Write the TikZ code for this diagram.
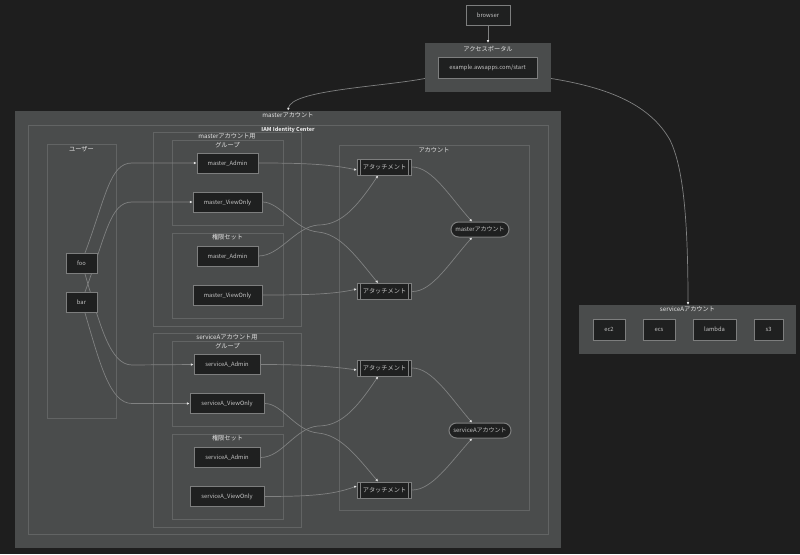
\documentclass[tikz,border=0pt]{standalone}
\usepackage{fontspec}
\setmainfont{Noto Sans CJK JP}
\usepackage{tikz}
\usetikzlibrary{shapes,arrows.meta,positioning,fit,backgrounds}
\definecolor{page}{RGB}{30, 30, 30}
\definecolor{clusterfill}{RGB}{74, 76, 76}
\definecolor{clusterline}{RGB}{98, 100, 100}
\definecolor{nodefill}{RGB}{31, 32, 32}
\definecolor{nodeline}{RGB}{125, 126, 126}
\definecolor{edgeline}{RGB}{128, 129, 129}
\definecolor{nodetext}{RGB}{195, 195, 195}
\definecolor{titletext}{RGB}{228, 228, 228}
\pgfdeclarelayer{edges}
\pgfsetlayers{background,edges,main}
\tikzstyle{cluster} = [rectangle, draw=clusterline, line width=0.7pt, fill=clusterfill, inner sep=0pt]
\tikzstyle{outer} = [rectangle, draw=none, fill=clusterfill, inner sep=0pt]
\tikzstyle{ctitle} = [text=titletext, font=\fontsize{6.2}{7}\selectfont, inner sep=0pt]
\tikzstyle{box} = [rectangle, draw=nodeline, line width=1pt, fill=nodefill, text=nodetext, text centered, font=\fontsize{5.8}{7}\selectfont, minimum height=20pt, inner sep=0pt, text height=4.6pt, text depth=0pt]
\tikzstyle{account} = [rectangle, rounded corners=7.5pt, draw=nodeline, line width=1pt, fill=nodefill, text=nodetext, text centered, font=\fontsize{6}{7}\selectfont, minimum height=15pt, inner sep=0pt, text height=4.6pt, text depth=0pt]
\tikzstyle{attach} = [box, minimum width=54.5pt, minimum height=16pt, font=\fontsize{6.2}{7}\selectfont, path picture={
  \draw[nodeline, line width=0.8pt] ([xshift=3pt]path picture bounding box.north west) -- ([xshift=3pt]path picture bounding box.south west);
  \draw[nodeline, line width=0.8pt] ([xshift=-3pt]path picture bounding box.north east) -- ([xshift=-3pt]path picture bounding box.south east);}]
\tikzstyle{tedge} = [draw=edgeline, line width=0.7pt, -{Latex[length=2.6pt,width=2.6pt,color=titletext]}]
\begin{document}
\begin{tikzpicture}[x=1pt, y=-1pt]
\useasboundingbox (0,0) rectangle (800,554);

% clusters =============================

\begin{scope}[on background layer]
\fill[page] (0,0) rectangle (800,554);
\node[outer, fit={(425,43) (551,92)}] (portal) {};
\node[outer, fit={(15,111) (561,548)}] (master) {};
\node[outer, fit={(579,305) (796,354)}] (serviceA) {};
\node[cluster, fit={(28,125) (548,534)}] (iam) {};
\node[cluster, fit={(47,144) (116,418)}] (users) {};
\node[cluster, fit={(339,145) (529,510)}] (accounts) {};
\node[cluster, fit={(153,132) (301,326)}] (mOuter) {};
\node[cluster, fit={(172,140) (283,225)}] (mGroup) {};
\node[cluster, fit={(172,233) (283,318)}] (mPerm) {};
\node[cluster, fit={(153,333) (301,527)}] (sOuter) {};
\node[cluster, fit={(172,341) (283,426)}] (sGroup) {};
\node[cluster, fit={(172,434) (283,519)}] (sPerm) {};
\end{scope}

% titles
\node[ctitle, below=3.5pt of portal.north] (portalT) {アクセスポータル};
\node[ctitle, below=2pt of master.north] (masterT) {masterアカウント};
\node[ctitle, below=2pt of serviceA.north] (serviceAT) {serviceAアカウント};
\node[ctitle, font=\fontsize{5.4}{7}\selectfont\bfseries, below=2pt of iam.north] (iamT) {IAM Identity Center};
\node[ctitle, below=2.5pt of users.north] (usersT) {ユーザー};
\node[ctitle, below=2.5pt of accounts.north] (accountsT) {アカウント};
\node[ctitle, below=2pt of mOuter.north] (mOuterT) {masterアカウント用};
\node[ctitle, below=2pt of mGroup.north] (mGroupT) {グループ};
\node[ctitle, below=1pt of mPerm.north] (mPermT) {権限セット};
\node[ctitle, below=2pt of sOuter.north] (sOuterT) {serviceAアカウント用};
\node[ctitle, below=2pt of sGroup.north] (sGroupT) {グループ};
\node[ctitle, below=1pt of sPerm.north] (sPermT) {権限セット};

% top
\node[box, minimum width=44pt] (browser) at (488,15) {browser};
\node[box, minimum width=99pt, minimum height=21pt] (start) at (487.5,67.5) {example.awsapps.com/start};

% users
\node[box, minimum width=31pt] (foo) at (81.5,263.5) {foo};
\node[box, minimum width=31pt, below=18pt of foo] (bar) {bar};

% master groups and permission sets
\node[box, minimum width=61pt] (mAdmin) at (227.5,163) {master\_Admin};
\node[box, minimum width=69pt, below=18pt of mAdmin] (mView) {master\_ViewOnly};
\node[box, minimum width=61pt] (mAdminP) at (227.5,256) {master\_Admin};
\node[box, minimum width=69pt, below=18pt of mAdminP] (mViewP) {master\_ViewOnly};

% serviceA groups and permission sets
\node[box, minimum width=66pt] (sAdmin) at (227,364.5) {serviceA\_Admin};
\node[box, minimum width=74pt, below=18pt of sAdmin] (sView) {serviceA\_ViewOnly};
\node[box, minimum width=66pt] (sAdminP) at (227,457.5) {serviceA\_Admin};
\node[box, minimum width=74pt, below=18pt of sAdminP] (sViewP) {serviceA\_ViewOnly};

% attachments
\node[attach] (att1) at (384.5,167) {アタッチメント};
\node[attach] (att2) at (384.5,291.5) {アタッチメント};
\node[attach] (att3) at (384.5,368) {アタッチメント};
\node[attach] (att4) at (384.5,490) {アタッチメント};
\node[account, minimum width=58pt] (mAcc) at (480,229.5) {masterアカウント};
\node[account, minimum width=62pt] (sAcc) at (480,430.5) {serviceAアカウント};

% serviceA resources
\node[box, minimum width=32pt, minimum height=21pt] (ec2) at (609,329.5) {ec2};
\node[box, minimum width=32pt, minimum height=21pt, right=17pt of ec2] (ecs) {ecs};
\node[box, minimum width=43pt, minimum height=21pt, right=17pt of ecs] (lambda) {lambda};
\node[box, minimum width=29pt, minimum height=21pt, right=17pt of lambda] (s3) {s3};

% edges =============================

\begin{pgfonlayer}{edges}
% top
\path[tedge, line width=1pt] (browser) -- (portal.north -| browser);
\path[tedge] (portal.west |- 0,78.5) .. controls (380,87) and (291,90) .. (288,110.5);
\path[tedge] (portal.east |- 0,78.5) .. controls (610,88) and (650,105) .. (670,140) .. controls (682,165) and (688,210) .. (serviceA.north -| 688,0);

% users to groups
\path[tedge] ([xshift=3.5pt]foo.north) .. controls (106,196) and (110,163) .. (132,163) -- (mAdmin.west);
\path[tedge] ([xshift=3.5pt]bar.north) .. controls (106,235) and (110,202) .. (132,202) -- (mView.west);
\path[tedge] ([xshift=3.5pt]foo.south) .. controls (100,325) and (110,365) .. (132,365) -- (sAdmin.west);
\path[tedge] ([xshift=3.5pt]bar.south) .. controls (100,364) and (110,403.5) .. (132,403.5) -- (sView.west);

% master to attachments
\path[tedge] (mAdmin.east) .. controls (300,163) and (330,164) .. ([yshift=-3pt]att1.west);
\path[tedge] (mViewP.east) .. controls (310,295) and (335,294) .. ([yshift=2.5pt]att2.west);
\path[tedge] (mView.east) .. controls (280,202) and (295,230) .. (318,232) .. controls (340,234) and (355,255) .. ([xshift=-6.5pt]att2.north);
\path[tedge] (mAdminP.east) .. controls (280,256) and (295,227) .. (318,225) .. controls (340,225) and (355,210) .. ([xshift=-6.5pt]att1.south);
\path[tedge] (att1.east) .. controls (432,167) and (450,197) .. ([xshift=-8pt]mAcc.north);
\path[tedge] (att2.east) .. controls (432,292) and (450,262) .. ([xshift=-8pt]mAcc.south);

% serviceA to attachments
\path[tedge] (sAdmin.east) .. controls (300,364.5) and (330,366) .. ([yshift=-2pt]att3.west);
\path[tedge] (sViewP.east) .. controls (315,496.5) and (335,494) .. ([yshift=4pt]att4.west);
\path[tedge] (sView.east) .. controls (282,403) and (295,431) .. (318,433) .. controls (340,435) and (355,454) .. ([xshift=-6.5pt]att4.north);
\path[tedge] (sAdminP.east) .. controls (282,457.5) and (295,428) .. (318,426) .. controls (340,426) and (355,411) .. ([xshift=-6.5pt]att3.south);
\path[tedge] (att3.east) .. controls (432,368) and (450,397) .. ([xshift=-8pt]sAcc.north);
\path[tedge] (att4.east) .. controls (432,490) and (450,463) .. ([xshift=-8pt]sAcc.south);
\end{pgfonlayer}

\end{tikzpicture}
\end{document}
